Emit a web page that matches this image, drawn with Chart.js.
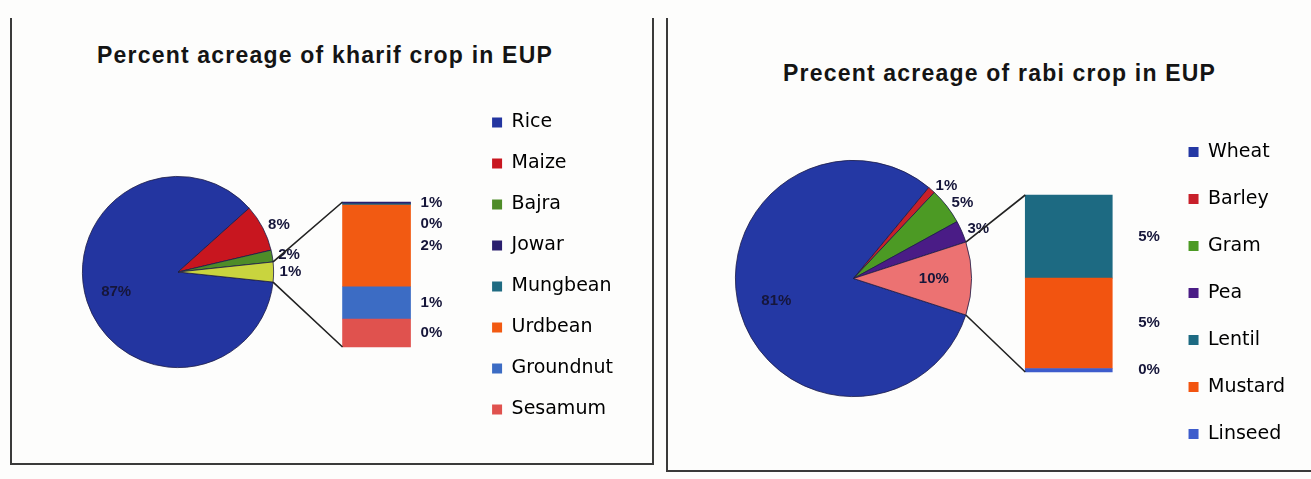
<!DOCTYPE html>
<html lang="en">
<head>
<meta charset="UTF-8">
<script src="https://cdn.jsdelivr.net/npm/chart.js"></script>
<title>Percent acreage of crops in EUP</title>
<style>
  body { margin: 0; width: 1311px; height: 479px; background: #fdfdfc; position: relative; overflow: hidden;
         font-family: "Liberation Sans", Arial, sans-serif; }
  .panel { position: absolute; border: 2px solid #3a3a3a; border-top: none; }
  .title { position: absolute; font-weight: bold; font-size: 23px; letter-spacing: 1.2px; color: #141414; white-space: nowrap; }
  canvas { position: absolute; }
</style>
</head>
<body>
<div class="panel" style="left:10px;top:18px;width:640px;height:445px"></div>
<div class="panel" style="left:666px;top:18px;width:660px;height:452px;border-right:none"></div>
<div class="title" style="left:97px;top:42px">Percent acreage of kharif crop in EUP</div>
<div class="title" style="left:783px;top:60px">Precent acreage of rabi crop in EUP</div>

<canvas id="kPie" width="300" height="220" style="left:70px;top:162px"></canvas>
<canvas id="kBar" width="430" height="412" style="left:250px;top:60px"></canvas>
<canvas id="rPie" width="330" height="260" style="left:725px;top:150px"></canvas>
<canvas id="rBar" width="400" height="386" style="left:940px;top:100px"></canvas>

<script>
// kharif crops: main pie + the "other" slice split into the bar
const kharifMain = ['Rice', 'Maize', 'Bajra'];
const kharifMainValues = [87, 8, 2];
const kharifMainLabels = ['87%', '8%', '2%'];
const kharifOtherLabel = '1%';
const kharifSecondary = ['Jowar', 'Mungbean', 'Urdbean', 'Groundnut', 'Sesamum'];
const kharifSecondaryValues = [0.04, 0.03, 1.9, 0.75, 0.65];
const kharifSecondaryLabels = ['1%', '0%', '2%', '1%', '0%'];

// rabi crops
const rabiMain = ['Wheat', 'Barley', 'Gram', 'Pea'];
const rabiMainValues = [81, 1, 5, 3];
const rabiMainLabels = ['81%', '1%', '5%', '3%'];
const rabiOtherLabel = '10%';
const rabiSecondary = ['Lentil', 'Mustard', 'Linseed'];
const rabiSecondaryValues = [4.7, 5.1, 0.2];
const rabiSecondaryLabels = ['5%', '5%', '0%'];

const kharifMainColors = ['#2335a0', '#c8161f', '#4e8c28', '#c9d43e'];
const kharifSecColors = ['#2a1f6e', '#1f6b82', '#f25a12', '#3c6cc4', '#e0524e'];
const rabiMainColors = ['#2438a4', '#c8202a', '#4c9a24', '#4a1c86', '#ec7272'];
const rabiSecColors = ['#1d6a82', '#f25410', '#3d5ccc'];

Chart.defaults.font.family = '"Liberation Sans", Arial, sans-serif';
Chart.defaults.animation = false;
Chart.defaults.plugins.tooltip.enabled = false;

const sum = arr => arr.reduce((a, b) => a + b, 0);

const pieLabels = {
  id: 'pieLabels',
  afterDatasetsDraw(chart, args, opts) {
    const ctx = chart.ctx;
    const meta = chart.getDatasetMeta(0);
    const vals = chart.data.datasets[0].data;
    const total = sum(vals);
    ctx.save();
    ctx.font = 'bold 15px "Liberation Sans", Arial, sans-serif';
    ctx.fillStyle = '#16163a';
    ctx.textBaseline = 'middle';
    let prev = null;
    meta.data.forEach((arc, i) => {
      const p = arc.getProps(['x', 'y', 'startAngle', 'endAngle', 'outerRadius'], true);
      const mid = (p.startAngle + p.endAngle) / 2;
      const text = opts.labels[i];
      if (vals[i] / total >= 0.095) {
        const r = p.outerRadius * 0.68;
        ctx.textAlign = 'center';
        ctx.fillText(text, p.x + r * Math.cos(mid), p.y + r * Math.sin(mid));
      } else {
        const r = p.outerRadius + 6;
        let lx = p.x + r * Math.cos(mid);
        let ly = p.y + r * Math.sin(mid);
        if (prev && ly - prev < 16) ly = prev + 16;
        prev = ly;
        ctx.textAlign = Math.cos(mid) >= 0 ? 'left' : 'right';
        ctx.fillText(text, lx, ly);
      }
    });
    ctx.restore();
  }
};

function makePie(id, values, colors, labels) {
  const total = sum(values);
  const otherDeg = values[values.length - 1] / total * 360;
  return new Chart(document.getElementById(id), {
    type: 'pie',
    data: { labels: values.map((v, i) => i), datasets: [{ data: values, backgroundColor: colors, borderColor: '#1c1c48', borderWidth: 0.8 }] },
    options: {
      responsive: false,
      rotation: 90 + otherDeg / 2,
      layout: { padding: id === 'kPie' ? { left: 10, right: 94, top: 14, bottom: 14 } : { left: 10, right: 83, top: 10, bottom: 13 } },
      plugins: { legend: { display: false }, pieLabels: { labels } }
    },
    plugins: [pieLabels]
  });
}

const barExtras = {
  id: 'barExtras',
  afterDatasetsDraw(chart, args, opts) {
    const ctx = chart.ctx;
    const n = chart.data.datasets.length;
    // datasets are stored bottom-to-top, so the last one is the top segment
    const topEl = chart.getDatasetMeta(n - 1).data[0];
    const botEl = chart.getDatasetMeta(0).data[0];
    const barLeft = topEl.x - topEl.width / 2;
    const barRight = topEl.x + topEl.width / 2;
    const barTop = topEl.y, barBottom = botEl.base;

    // connector lines from the "other" slice of the pie
    const pie = opts.pie;
    const arcs = pie.getDatasetMeta(0).data;
    const arc = arcs[arcs.length - 1].getProps(['x', 'y', 'startAngle', 'endAngle', 'outerRadius'], true);
    const dx = pie.canvas.offsetLeft - chart.canvas.offsetLeft;
    const dy = pie.canvas.offsetTop - chart.canvas.offsetTop;
    ctx.save();
    ctx.strokeStyle = '#222';
    ctx.lineWidth = 1.6;
    ctx.beginPath();
    ctx.moveTo(arc.x + dx + arc.outerRadius * Math.cos(arc.startAngle), arc.y + dy + arc.outerRadius * Math.sin(arc.startAngle));
    ctx.lineTo(barLeft, barTop);
    ctx.moveTo(arc.x + dx + arc.outerRadius * Math.cos(arc.endAngle), arc.y + dy + arc.outerRadius * Math.sin(arc.endAngle));
    ctx.lineTo(barLeft, barBottom);
    ctx.stroke();

    // segment labels, top to bottom
    ctx.font = 'bold 15px "Liberation Sans", Arial, sans-serif';
    ctx.fillStyle = '#16163a';
    ctx.textAlign = 'left';
    ctx.textBaseline = 'middle';
    let prev = -1e9;
    for (let k = n - 1; k >= 0; k--) {
      const el = chart.getDatasetMeta(k).data[0];
      let y = (el.y + el.base) / 2;
      if (y - prev < 21) y = prev + 21;
      prev = y;
      ctx.fillText(opts.labels[n - 1 - k], barRight + opts.gap, y);
    }
    ctx.restore();
  }
};

function makeBar(id, names, values, colors, labels, legendNames, legendColors, g) {
  const total = sum(values);
  const canvas = document.getElementById(id);
  const areaTop = canvas.offsetTop + g.pad.top;
  const areaBottom = canvas.offsetTop + canvas.height - g.pad.bottom;
  const span = g.barBottom - g.barTop;
  const datasets = names.map((name, i) => ({
    label: name, data: [values[i]], backgroundColor: colors[i],
    barThickness: g.thickness
  })).reverse();
  return new Chart(canvas, {
    type: 'bar',
    data: { labels: [''], datasets },
    options: {
      responsive: false,
      layout: { padding: g.pad },
      scales: {
        x: { stacked: true, display: false },
        y: { stacked: true, display: false,
             min: -(areaBottom - g.barBottom) / span * total,
             max: total + (g.barTop - areaTop) / span * total }
      },
      plugins: {
        legend: {
          position: 'right',
          onClick: null,
          labels: {
            boxWidth: 10, boxHeight: 10, padding: g.legendPad, color: '#151515',
            font: { size: 19, family: '"DejaVu Sans", sans-serif' },
            generateLabels: () => legendNames.map((t, i) => ({
              text: t, fillStyle: legendColors[i], strokeStyle: legendColors[i], lineWidth: 0, hidden: false, datasetIndex: i
            }))
          }
        },
        barExtras: { pie: g.pie, labels, gap: g.gap }
      }
    },
    plugins: [barExtras]
  });
}

const kPie = makePie('kPie', [...kharifMainValues, sum(kharifSecondaryValues)], kharifMainColors, [...kharifMainLabels, kharifOtherLabel]);
makeBar('kBar', kharifSecondary, kharifSecondaryValues, kharifSecColors, kharifSecondaryLabels,
  [...kharifMain, ...kharifSecondary], [...kharifMainColors.slice(0, kharifMain.length), ...kharifSecColors],
  { pie: kPie, pad: { left: 33, right: 57, top: 0, bottom: 0 }, barTop: 202, barBottom: 347, thickness: 68, legendPad: 22, gap: 10 });

const rPie = makePie('rPie', [...rabiMainValues, sum(rabiSecondaryValues)], rabiMainColors, [...rabiMainLabels, rabiOtherLabel]);
makeBar('rBar', rabiSecondary, rabiSecondaryValues, rabiSecColors, rabiSecondaryLabels,
  [...rabiMain, ...rabiSecondary], [...rabiMainColors.slice(0, rabiMain.length), ...rabiSecColors],
  { pie: rPie, pad: { left: 37, right: 45, top: 0, bottom: 0 }, barTop: 195, barBottom: 372, thickness: 87, legendPad: 28, gap: 26 });
</script>
</body>
</html>
